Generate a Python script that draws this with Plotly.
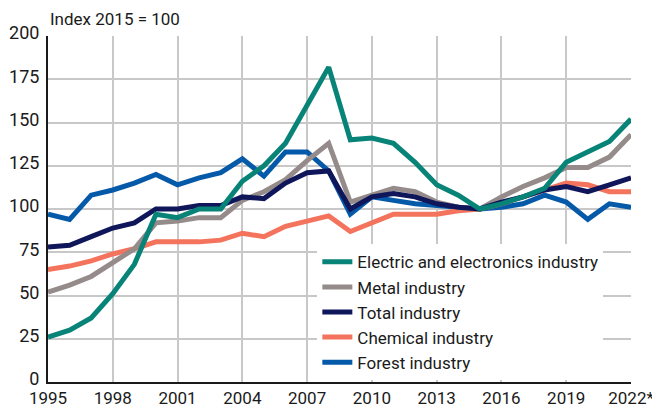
import plotly.graph_objects as go

years = list(range(1995, 2023))

electric = [26, 30, 37, 51, 68, 97, 95, 100, 100, 116, 125, 138, 160, 182, 140, 141, 138, 127, 114, 108, 100,
            103, 107, 112, 127, 133, 139, 152]
metal = [52, 56, 61, 69, 77, 92, 93, 95, 95, 105, 110, 117, 128, 138, 104, 108, 112, 110, 104, 101, 100,
         107, 113, 118, 124, 124, 130, 143]
total = [78, 79, 84, 89, 92, 100, 100, 102, 102, 107, 106, 115, 121, 122, 100, 107, 109, 107, 103, 101, 100,
         104, 107, 111, 113, 110, 114, 118]
chemical = [65, 67, 70, 74, 77, 81, 81, 81, 82, 86, 84, 90, 93, 96, 87, 92, 97, 97, 97, 99, 100,
            103, 107, 111, 115, 114, 110, 110]
forest = [97, 94, 108, 111, 115, 120, 114, 118, 121, 129, 119, 133, 133, 122, 97, 107, 105, 103, 102, 101, 100,
          101, 103, 108, 104, 94, 103, 101]

names = ['Electric and electronics industry', 'Metal industry', 'Total industry',
         'Chemical industry', 'Forest industry']
colors = ['#078377', '#948b8a', '#0f175a', '#f4735c', '#0459a9']
series = [electric, metal, total, chemical, forest]

x_ticks = list(range(1995, 2023, 3))
x_labels = [str(y) for y in x_ticks[:-1]] + ['2022*']

font = 'Roboto, Arial, sans-serif'

fig = go.Figure()
# forest drawn first so the other lines sit on top, legend order kept via legendrank
order = [4, 3, 1, 2, 0]
for i in order:
    fig.add_trace(go.Scatter(x=years, y=series[i], mode='lines', name=names[i],
                             line={'color': colors[i], 'width': 5}, legendrank=i + 1))

# page body has an 8px margin, so the figure is sized to the visible area
fig.update_layout(
    width=652, height=399,
    margin={'l': 40, 'r': 29, 't': 28, 'b': 25, 'autoexpand': False},
    plot_bgcolor='white', paper_bgcolor='white',
    font={'family': font, 'size': 17, 'color': '#1a1a1a'},
    showlegend=True,
    legend={'x': 0.462, 'y': 0.005, 'xanchor': 'left', 'yanchor': 'bottom',
            'bgcolor': 'white', 'font': {'size': 17, 'color': '#1a1a1a'},
            'itemwidth': 30, 'tracegroupgap': 0},
    annotations=[{'text': 'Index 2015 = 100', 'xref': 'paper', 'yref': 'paper',
                  'x': 0, 'y': 1.015, 'xanchor': 'left', 'yanchor': 'bottom',
                  'showarrow': False, 'font': {'size': 17, 'color': '#1a1a1a'}}],
)
fig.update_xaxes(range=[1995, 2022], tickvals=x_ticks, ticktext=x_labels,
                 showgrid=True, gridcolor='#c8c8c8', gridwidth=1.5,
                 showline=True, linecolor='#1a1a1a', linewidth=2, zeroline=False,
                 ticks='', ticklabelstandoff=0, automargin=False,
                 tickfont={'size': 17})
fig.update_yaxes(range=[0, 200], tickvals=list(range(0, 201, 25)),
                 showgrid=True, gridcolor='#c8c8c8', gridwidth=1.5,
                 showline=True, linecolor='#1a1a1a', linewidth=2, zeroline=False,
                 ticks='', ticklabelstandoff=3, ticklabelshift=-3, automargin=False,
                 tickfont={'size': 18})

fig.write_html('out.html')
